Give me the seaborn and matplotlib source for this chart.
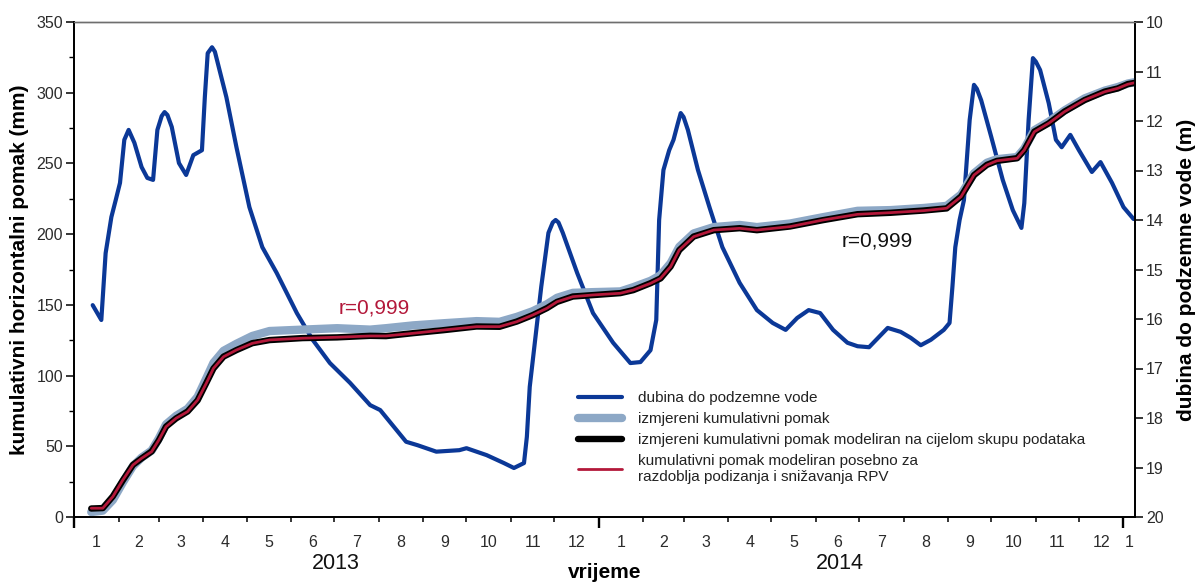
import pandas as pd
import matplotlib
matplotlib.use("Agg")
import matplotlib.pyplot as plt
import matplotlib.dates as mdates
import matplotlib.ticker as mticker
import seaborn as sns

sns.set_theme(style="white")
plt.rcParams["font.family"] = ["Liberation Sans", "DejaVu Sans"]

# --- cumulative horizontal displacement (mm) ---
cum_dates = [
    "2013-01-13", "2013-01-21", "2013-01-28", "2013-02-04", "2013-02-11", "2013-02-17",
    "2013-02-24", "2013-03-01", "2013-03-06", "2013-03-13", "2013-03-21", "2013-03-28",
    "2013-04-03", "2013-04-08", "2013-04-15", "2013-04-24", "2013-05-05", "2013-05-17",
    "2013-06-09", "2013-07-03", "2013-07-26", "2013-08-06", "2013-08-25", "2013-09-15",
    "2013-10-08", "2013-10-24", "2013-11-05", "2013-11-16", "2013-11-26", "2013-12-03",
    "2013-12-14", "2013-12-28", "2014-01-16", "2014-01-25", "2014-02-06", "2014-02-13",
    "2014-02-20", "2014-02-26", "2014-03-08", "2014-03-22", "2014-04-09", "2014-04-21",
    "2014-05-14", "2014-06-06", "2014-06-30", "2014-07-23", "2014-08-15", "2014-08-31",
    "2014-09-10", "2014-09-19", "2014-09-28", "2014-10-05", "2014-10-19", "2014-10-24",
    "2014-10-31", "2014-11-10", "2014-11-21", "2014-12-05", "2014-12-19", "2014-12-28",
    "2015-01-04", "2015-01-09",
]
measured = [
    3.5, 4.5, 12.0, 24.5, 36.0, 42.0, 47.0, 55.5, 65.5, 71.5, 76.5, 85.0,
    98.0, 109.0, 117.5, 122.5, 128.0, 131.5, 132.5, 133.5, 132.5, 133.5, 135.5, 137.0,
    138.5, 138.0, 141.5, 145.5, 150.5, 155.0, 158.5, 159.0, 159.5, 162.5, 167.0, 171.0,
    179.5, 191.0, 200.5, 205.0, 206.5, 205.0, 207.5, 212.0, 216.5, 217.0, 218.5, 220.0,
    228.0, 243.0, 250.5, 253.0, 254.5, 260.5, 273.5, 279.5, 287.5, 296.0, 301.5, 304.0,
    306.5, 307.5,
]
model_all = [
    6.0, 6.3, 14.6, 26.0, 36.9, 41.4, 46.4, 54.2, 63.9, 69.7, 74.6, 82.5,
    94.7, 105.0, 113.4, 118.0, 122.9, 125.1, 126.5, 127.0, 128.1, 127.9, 130.0, 132.1,
    134.7, 134.5, 138.2, 142.7, 147.7, 152.1, 155.9, 156.9, 158.3, 160.4, 165.3, 168.7,
    177.1, 188.7, 198.3, 202.8, 204.2, 202.8, 205.4, 209.9, 214.1, 215.1, 216.7, 218.2,
    226.6, 241.7, 249.0, 251.8, 253.7, 259.4, 272.5, 278.3, 286.7, 294.8, 300.8, 303.0,
    306.1, 307.0,
]
model_split = [
    6.2, 6.2, 14.4, 26.2, 36.8, 41.5, 46.2, 54.4, 63.8, 69.8, 74.5, 82.7,
    94.5, 105.1, 113.3, 118.1, 122.8, 125.2, 126.4, 127.1, 128.0, 128.0, 129.9, 132.2,
    134.6, 134.6, 138.1, 142.8, 147.6, 152.2, 155.8, 157.0, 158.2, 160.5, 165.2, 168.8,
    177.0, 188.8, 198.2, 202.9, 204.1, 202.9, 205.3, 210.0, 214.0, 215.2, 216.6, 218.3,
    226.5, 241.8, 248.9, 251.9, 253.6, 259.5, 272.4, 278.4, 286.6, 294.9, 300.7, 303.1,
    306.0, 307.1,
]

# --- depth to groundwater (m) ---
gw_dates = [
    "2013-01-14", "2013-01-20", "2013-01-23", "2013-01-27", "2013-01-30", "2013-02-02",
    "2013-02-05", "2013-02-08", "2013-02-12", "2013-02-17", "2013-02-21", "2013-02-25",
    "2013-02-28", "2013-03-03", "2013-03-05", "2013-03-07", "2013-03-10", "2013-03-15",
    "2013-03-20", "2013-03-25", "2013-03-31", "2013-04-02", "2013-04-04", "2013-04-07",
    "2013-04-09", "2013-04-11", "2013-04-17", "2013-04-24", "2013-05-03", "2013-05-12",
    "2013-05-22", "2013-06-05", "2013-06-16", "2013-06-28", "2013-07-12", "2013-07-26",
    "2013-08-02", "2013-08-20", "2013-08-28", "2013-09-10", "2013-09-26", "2013-10-01",
    "2013-10-15", "2013-10-27", "2013-11-03", "2013-11-10", "2013-11-12", "2013-11-14",
    "2013-11-18", "2013-11-22", "2013-11-27", "2013-11-30", "2013-12-02", "2013-12-04",
    "2013-12-07", "2013-12-17", "2013-12-28", "2014-01-11", "2014-01-23", "2014-01-30",
    "2014-02-06", "2014-02-10", "2014-02-12", "2014-02-15", "2014-02-19", "2014-02-22",
    "2014-02-25", "2014-02-27", "2014-03-01", "2014-03-04", "2014-03-11", "2014-03-19",
    "2014-03-28", "2014-04-09", "2014-04-21", "2014-05-02", "2014-05-11", "2014-05-19",
    "2014-05-27", "2014-06-04", "2014-06-13", "2014-06-23", "2014-06-30", "2014-07-08",
    "2014-07-15", "2014-07-21", "2014-07-30", "2014-08-06", "2014-08-13", "2014-08-20",
    "2014-08-29", "2014-09-02", "2014-09-04", "2014-09-06", "2014-09-09", "2014-09-12",
    "2014-09-16", "2014-09-19", "2014-09-21", "2014-09-24", "2014-10-01", "2014-10-09",
    "2014-10-16", "2014-10-22", "2014-10-24", "2014-10-27", "2014-10-30", "2014-11-01",
    "2014-11-04", "2014-11-10", "2014-11-15", "2014-11-19", "2014-11-25", "2014-12-01",
    "2014-12-10", "2014-12-16", "2014-12-24", "2015-01-01", "2015-01-08",
]
depth = [
    15.72, 16.02, 14.67, 13.94, 13.60, 13.25,
    12.38, 12.18, 12.44, 12.93, 13.15, 13.19,
    12.18, 11.90, 11.82, 11.88, 12.12, 12.85,
    13.09, 12.69, 12.59, 11.52, 10.63, 10.51,
    10.60, 10.83, 11.52, 12.53, 13.74, 14.55,
    15.07, 15.88, 16.42, 16.89, 17.29, 17.74,
    17.84, 18.48, 18.55, 18.68, 18.65, 18.61,
    18.75, 18.91, 19.01, 18.91, 18.38, 17.37,
    16.36, 15.35, 14.26, 14.05, 14.00, 14.05,
    14.26, 15.07, 15.88, 16.48, 16.89, 16.87,
    16.63, 16.02, 14.00, 12.99, 12.59, 12.38,
    12.05, 11.84, 11.92, 12.18, 12.99, 13.74,
    14.55, 15.27, 15.82, 16.08, 16.22, 15.98,
    15.82, 15.88, 16.22, 16.48, 16.55, 16.57,
    16.36, 16.18, 16.26, 16.38, 16.53, 16.42,
    16.22, 16.08, 15.35, 14.55, 14.00, 13.60,
    11.98, 11.27, 11.35, 11.58, 12.32, 13.19,
    13.80, 14.16, 13.66, 11.98, 10.73, 10.80,
    10.97, 11.64, 12.38, 12.53, 12.28, 12.59,
    13.03, 12.83, 13.25, 13.74, 13.98,
]

month_labels = [str(m) for m in range(1, 13)] * 2 + ["1"]
year_labels = ["2013", "2014"]
year_label_dates = ["2013-07-02", "2014-06-18"]
legend_labels = [
    "dubina do podzemne vode",
    "izmjereni kumulativni pomak",
    "izmjereni kumulativni pomak modeliran na cijelom skupu podataka",
    "kumulativni pomak modeliran posebno za\nrazdoblja podizanja i snižavanja RPV",
]

BLUE = "#0b3897"
GREYBLUE = "#8da8c6"
RED = "#b3183a"
TICKCOL = "#2b2b2b"

cum = pd.DataFrame({
    "datum": pd.to_datetime(cum_dates),
    "izmjereni": measured,
    "cijeli": model_all,
    "posebno": model_split,
})
gw = pd.DataFrame({"datum": pd.to_datetime(gw_dates), "dubina": depth})

fig = plt.figure(figsize=(12, 5.82), dpi=100)
ax = fig.add_axes([74 / 1200, 1 - 517 / 582, (1135 - 74) / 1200, (517 - 22) / 582])
ax2 = ax.twinx()
ax.set_zorder(ax2.get_zorder() + 1)
ax.patch.set_visible(False)

sns.lineplot(data=gw, x="datum", y="dubina", ax=ax2, color=BLUE, lw=3.0,
             legend=False)
sns.lineplot(data=cum, x="datum", y="izmjereni", ax=ax, color=GREYBLUE, lw=6.0,
             legend=False)
sns.lineplot(data=cum, x="datum", y="cijeli", ax=ax, color="black", lw=4.6,
             legend=False)
sns.lineplot(data=cum, x="datum", y="posebno", ax=ax, color=RED, lw=2.0,
             legend=False)
for ln in ax.lines + ax2.lines:
    ln.set_solid_joinstyle("round")
    ln.set_solid_capstyle("round")

# axis ranges
ax.set_xlim(pd.Timestamp("2013-01-01"), pd.Timestamp("2015-01-09"))
ax.set_ylim(0, 350)
ax2.set_ylim(20, 10)

# y axes ticks
ax.yaxis.set_major_locator(mticker.MultipleLocator(50))
ax.yaxis.set_minor_locator(mticker.MultipleLocator(25))
ax.tick_params(axis="y", which="major", direction="out", length=6, width=1.1,
               pad=2, labelsize=11.5, labelcolor=TICKCOL, left=True, color="black")
ax.tick_params(axis="y", which="minor", direction="out", length=3.5, width=1.0,
               left=True, color="black")
ax2.yaxis.set_major_locator(mticker.MultipleLocator(1))
ax2.tick_params(axis="y", which="major", direction="out", length=6, width=1.1,
                pad=2, labelsize=11.5, labelcolor=TICKCOL, right=True, color="black")

# x axis: month boundaries (short ticks), month numbers centred in each month
month_starts = pd.date_range("2013-01-01", "2015-01-01", freq="MS")
mid_pos = [mdates.date2num(a) + (mdates.date2num(b) - mdates.date2num(a)) / 2
           for a, b in zip(month_starts[:-1], month_starts[1:])]
mid_pos.append(mdates.date2num(pd.Timestamp("2015-01-05")))
ax.xaxis.set_major_locator(mticker.FixedLocator(mid_pos))
ax.xaxis.set_major_formatter(mticker.FixedFormatter(month_labels))
ax.xaxis.set_minor_locator(mdates.MonthLocator())
ax.xaxis.set_minor_formatter(mticker.NullFormatter())
ax.tick_params(axis="x", which="major", length=0, pad=13, labelsize=11.5,
               labelcolor=TICKCOL, bottom=True)
ax.tick_params(axis="x", which="minor", direction="out", length=3.6, width=1.1,
               bottom=True, color="black")

# year boundaries: long ticks
sec = ax.secondary_xaxis("bottom")
sec.set_xticks([mdates.date2num(pd.Timestamp(d)) for d in
                ["2013-01-01", "2014-01-01", "2015-01-01"]])
sec.tick_params(axis="x", direction="out", length=8, width=1.7, color="black",
                labelbottom=False)
sec.spines["bottom"].set_visible(False)

for lab, d in zip(year_labels, year_label_dates):
    ax.text(pd.Timestamp(d), -0.093, lab, transform=ax.get_xaxis_transform(),
            ha="center", va="center", fontsize=15.5, color="#111111")

# axis titles
ax.set_xlabel("vrijeme", fontsize=15, fontweight="bold", color="black")
ax.xaxis.set_label_coords(0.5, -0.113)
ax.xaxis.label.set_va("center")
ax.set_ylabel("kumulativni horizontalni pomak (mm)", fontsize=15,
              fontweight="bold", color="black")
ax.yaxis.set_label_coords(-0.051, 0.5)
ax.yaxis.label.set_va("center")
ax2.set_ylabel("dubina do podzemne vode (m)", fontsize=15, fontweight="bold",
               color="black", rotation=90)
ax2.yaxis.set_label_coords(1.049, 0.5)
ax2.yaxis.label.set_va("center")

# spines
for a in (ax, ax2):
    a.spines["top"].set_color("#6e6e6e")
    a.spines["top"].set_linewidth(1.0)
    for s in ("left", "right", "bottom"):
        a.spines[s].set_color("black")
        a.spines[s].set_linewidth(1.3)
ax.grid(False)
ax2.grid(False)

# correlation annotations
ax.text(pd.Timestamp("2013-07-29"), 148, "r=0,999", color=RED, fontsize=15,
        ha="center", va="center")
ax.text(pd.Timestamp("2014-07-14"), 195, "r=0,999", color="#111111", fontsize=15,
        ha="center", va="center")

handles = [ax2.lines[0], ax.lines[0], ax.lines[1], ax.lines[2]]
ax.legend(handles, legend_labels, loc="upper left", bbox_to_anchor=(0.475, 0.254),
          frameon=False, fontsize=11, handlelength=2.9, handletextpad=1.0,
          labelspacing=0.45, borderpad=0, borderaxespad=0,
          labelcolor="#222222")

fig.savefig("out.png", dpi=100)
